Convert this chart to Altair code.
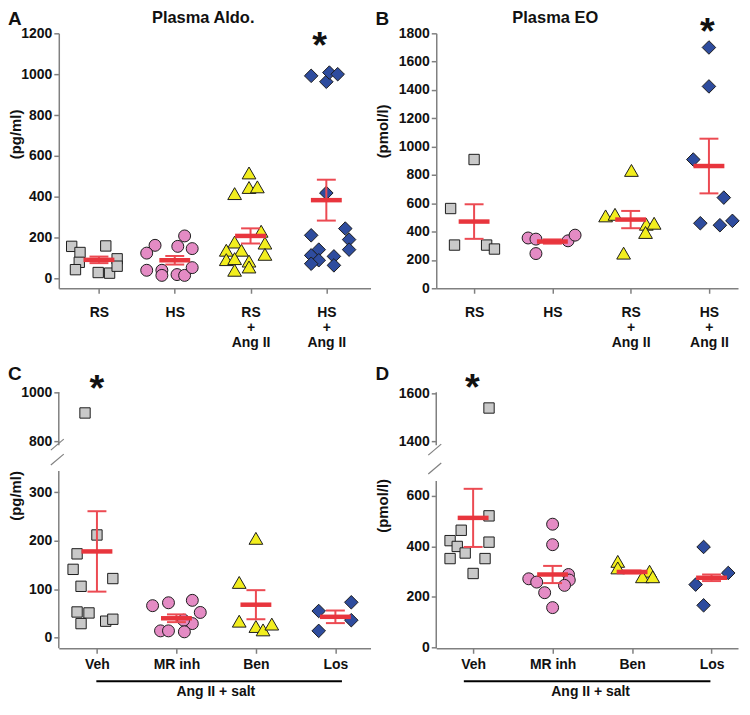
import json
import altair as alt
import pandas as pd

FONT = "Liberation Sans"
INK = "#111111"
RED_MEAN = "#e8353d"
RED_ERR = "#ec4a52"
EDGE = "#1c1c1c"
AXIS_GRAY = "#808080"

# ---------------- text ----------------
groups_top = ["RS", "HS", "RS|+|Ang II", "HS|+|Ang II"]
groups_bottom = ["Veh", "MR inh", "Ben", "Los"]
panel_letters = ["A", "B", "C", "D"]
panel_titles = ["Plasma Aldo.", "Plasma EO"]
unit_titles = ["(pg/ml)", "(pmol/l)"]
bracket_label = "Ang II + salt"
star_text = "*"

# ---------------- Panel A: plasma aldosterone (pg/ml) ----------------
a_rs = [158, 128, 80, 44, 30, 160, 27, 97, 61]
a_rs_dx = [-0.36, -0.25, -0.26, -0.31, -0.01, 0.09, 0.14, 0.24, 0.24]
a_hs = [163, 125, 209, 158, 147, 41, 41, 16, 20, 16, 54]
a_hs_dx = [-0.26, -0.37, 0.13, 0.04, 0.23, -0.37, -0.17, -0.17, 0.03, 0.13, 0.23]
a_rsang = [517, 416, 446, 449, 232, 174, 119, 179, 139, 139, 93, 98, 86, 57, 41]
a_rsang_dx = [-0.02, -0.21, -0.02, 0.09, 0.14, 0.19, 0.19, -0.21, -0.12, -0.32,
              -0.32, -0.21, -0.02, -0.02, -0.21]
a_hsang = [992, 963, 1008, 1000, 419, 212, 142, 114, 90, 73, 109, 65, 245, 191, 142]
a_hsang_dx = [-0.20, 0.00, 0.04, 0.15, 0.00, -0.20, -0.10, -0.20, -0.10, -0.20,
              0.10, 0.10, 0.25, 0.30, 0.30]
a_mean = [92, 90, 209, 384]
a_sem = [16, 21, 37, 100]

# ---------------- Panel B: plasma EO (pmol/l) ----------------
b_rs = [909, 563, 305, 305, 277]
b_rs_dx = [0.00, -0.30, -0.25, 0.16, 0.26]
b_hs = [355, 347, 245, 335, 375]
b_hs_dx = [-0.31, -0.21, -0.21, 0.20, 0.29]
b_rsang = [832, 511, 522, 452, 459, 394, 248]
b_rsang_dx = [0.01, -0.32, -0.20, 0.20, 0.30, 0.19, -0.09]
b_hsang = [1700, 1425, 909, 640, 459, 445, 476]
b_hsang_dx = [0.00, 0.00, -0.20, 0.19, -0.11, 0.14, 0.30]
b_mean = [471, 330, 485, 863]
b_sem = [122, 15, 61, 193]

# ---------------- Panel C: plasma aldosterone, Ang II + salt (pg/ml) ----------------
c_veh = [916, 212, 173, 141, 106, 122, 53, 51, 29, 34, 38]
c_veh_dx = [-0.15, 0.00, -0.25, -0.30, -0.20, 0.20, -0.25, -0.10, -0.20, 0.11, 0.20]
c_mr = [66, 72, 77, 52, 29, 36, 14, 14, 12]
c_mr_dx = [-0.30, -0.10, 0.20, 0.30, 0.20, 0.09, -0.20, -0.10, 0.10]
c_ben = [205, 114, 34, 23, 16, 28]
c_ben_dx = [0.00, -0.21, -0.21, 0.00, 0.09, 0.20]
c_los = [55, 14, 73, 36]
c_los_dx = [-0.21, -0.21, 0.20, 0.20]
c_mean = [178, 40, 68, 43]
c_sem = [83, 8, 30, 13]

# ---------------- Panel D: plasma EO, Ang II + salt (pmol/l) ----------------
d_veh = [1539, 521, 464, 423, 400, 374, 352, 417, 352, 293]
d_veh_dx = [0.20, 0.20, -0.15, -0.29, -0.20, -0.10, -0.29, 0.20, 0.15, 0.00]
d_mr = [488, 407, 272, 259, 217, 158, 289, 267, 246]
d_mr_dx = [0.00, 0.00, -0.30, -0.20, -0.10, 0.00, 0.20, 0.21, 0.15]
d_ben = [341, 315, 302, 280, 280]
d_ben_dx = [-0.18, -0.18, 0.22, 0.13, 0.26]
d_los = [398, 249, 167, 295]
d_los_dx = [-0.10, -0.20, -0.10, 0.21]
d_mean = [513, 289, 299, 276]
d_sem = [115, 34, 6, 13]

# significance stars (group position, value)
star_x = [2.91, 2.98, 0.0, -0.01]
star_y = [1180, 1875, 1050, 1660]

# broken y axes: visible segments (lower, upper)
c_segments = [(-22, 344), (785, 1000)]
d_segments = [(-3, 659), (1385, 1604)]

# ---------------- styling ----------------
shapes = ["square", "circle", "triangle-up", "diamond"]
fills = ["#c9c9c9", "#e48bc4", "#f2ee1e", "#2e4c9e"]
sizes = [108, 144, 190, 185]


def make_points(vals, dxs):
    rows = []
    for g, (vs, ds) in enumerate(zip(vals, dxs)):
        for v, d in zip(vs, ds):
            rows.append({"g": g, "xpos": g + d, "v": v})
    return pd.DataFrame(rows)


def make_stats(means, sems):
    return pd.DataFrame({
        "g": list(range(len(means))),
        "mean": means,
        "lo": [m - s for m, s in zip(means, sems)],
        "hi": [m + s for m, s in zip(means, sems)],
    })


def label_expr(labels):
    return "split(" + json.dumps(labels) + "[round(datum.value)], '|')"


def x_axis(labels, pad):
    return alt.Axis(values=[0, 1, 2, 3], labelExpr=label_expr(labels), title=None,
                    labelPadding=pad, labelLineHeight=15, labelOverlap=False,
                    labelFlush=False, labelAlign="center", labelBaseline="top",
                    labelFontSize=14, grid=False)


def y_axis(ticks, domain=True):
    return alt.Axis(values=ticks, format="d", title=None, grid=False, domain=domain,
                    labelPadding=2, labelFontSize=14, labelOverlap=False)


def text_px(txt, x, y, size, align="left", baseline="top", angle=0):
    return alt.Chart(pd.DataFrame({"t": [txt]})).mark_text(
        font=FONT, fontSize=size, fontWeight="bold", color=INK,
        align=align, baseline=baseline, angle=angle).encode(
        x=alt.value(x), y=alt.value(y), text="t:N")


def unit_title(txt, x, y):
    return text_px(txt, x, y, 15, align="center", baseline="middle", angle=270)


def panel(pts, st, xs, ys, xax, yax, width, height, star, extras=(), segments=None):
    def X(f):
        return alt.X(f, scale=xs, axis=xax)

    def Y(f):
        return alt.Y(f, scale=ys, axis=yax)

    layers = []
    if segments is not None:
        seg = pd.DataFrame({"x": [xs.domain[0]] * len(segments),
                            "y0": [s[0] for s in segments],
                            "y1": [s[1] for s in segments]})
        layers.append(alt.Chart(seg).mark_rule(color=AXIS_GRAY, strokeWidth=1.5).encode(
            x=X("x:Q"), y=Y("y0:Q"), y2="y1:Q"))
    base = alt.Chart(pts)
    for g in range(4):
        layers.append(
            base.transform_filter(alt.datum.g == g).mark_point(
                shape=shapes[g], filled=True, fill=fills[g], stroke=EDGE,
                strokeWidth=1, size=sizes[g], opacity=1).encode(
                x=X("xpos:Q"), y=Y("v:Q")))
    sb = alt.Chart(st)
    layers.append(sb.mark_rule(color=RED_ERR, strokeWidth=2).encode(
        x=X("g:Q"), y=Y("lo:Q"), y2="hi:Q"))
    layers.append(sb.transform_fold(["lo", "hi"], as_=["k", "cap"]).mark_tick(
        orient="horizontal", color=RED_ERR, size=19, thickness=2, opacity=1).encode(
        x=X("g:Q"), y=Y("cap:Q")))
    layers.append(sb.mark_tick(
        orient="horizontal", color=RED_MEAN, size=31, thickness=4.5, opacity=1).encode(
        x=X("g:Q"), y=Y("mean:Q")))
    sx, sy = star
    layers.append(alt.Chart(pd.DataFrame({"x": [sx], "y": [sy], "t": [star_text]})).mark_text(
        font=FONT, fontSize=38, fontWeight="bold", color=INK,
        baseline="alphabetic", dy=21).encode(
        x=X("x:Q"), y=Y("y:Q"), text="t:N"))
    layers.extend(extras)
    return alt.layer(*layers).properties(width=width, height=height)


def slash(x, y):
    return alt.Chart(pd.DataFrame({"t": [0]})).mark_rule(color=AXIS_GRAY, strokeWidth=1.2).encode(
        x=alt.value(x - 7), x2=alt.value(x + 6), y=alt.value(y + 6), y2=alt.value(y - 5))


def bracket(x0, x1, y, tx, ty):
    line = alt.Chart(pd.DataFrame({"t": [bracket_label]})).mark_rule(
        color="black", strokeWidth=2).encode(
        x=alt.value(x0), x2=alt.value(x1), y=alt.value(y))
    return [line, text_px(bracket_label, tx, ty, 14, align="center", baseline="middle")]


# ---------------- Panel A ----------------
pA = make_points([a_rs, a_hs, a_rsang, a_hsang], [a_rs_dx, a_hs_dx, a_rsang_dx, a_hsang_dx])
sA = make_stats(a_mean, a_sem)
chartA = panel(
    pA, sA,
    alt.Scale(domain=[-0.53, 3.583], nice=False, zero=False),
    alt.Scale(domain=[-47, 1200], nice=False, zero=False),
    x_axis(groups_top, 12.5),
    y_axis(list(range(0, 1201, 200))),
    313, 256, (star_x[0], star_y[0]),
    extras=[text_px(panel_letters[0], -51, -23.5, 19),
            text_px(panel_titles[0], 145, -23.5, 16.5, align="center"),
            unit_title(unit_titles[0], -43, 101.5)])

# ---------------- Panel B ----------------
pB = make_points([b_rs, b_hs, b_rsang, b_hsang], [b_rs_dx, b_hs_dx, b_rsang_dx, b_hsang_dx])
sB = make_stats(b_mean, b_sem)
chartB = panel(
    pB, sB,
    alt.Scale(domain=[-0.4835, 3.3715], nice=False, zero=False),
    alt.Scale(domain=[0, 1800], nice=False, zero=False),
    x_axis(groups_top, 12.5),
    y_axis(list(range(0, 1801, 200))),
    303, 256, (star_x[1], star_y[1]),
    extras=[text_px(panel_letters[1], -61, -23.5, 19),
            text_px(panel_titles[1], 119.5, -23.5, 16.5, align="center"),
            unit_title(unit_titles[1], -53, 98.5)])

# ---------------- Panel C (broken axis, piecewise scale) ----------------
pC = make_points([c_veh, c_mr, c_ben, c_los], [c_veh_dx, c_mr_dx, c_ben_dx, c_los_dx])
sC = make_stats(c_mean, c_sem)
chartC = panel(
    pC, sC,
    alt.Scale(domain=[-0.48, 3.442], nice=False, zero=False),
    alt.Scale(domain=[c_segments[0][0], c_segments[0][1], c_segments[1][0], c_segments[1][1]],
              range=[257, 79, 53, 0], nice=False, zero=False),
    x_axis(groups_bottom, 4),
    y_axis([0, 100, 200, 300, 800, 1000], domain=False),
    313, 257, (star_x[2], star_y[2]),
    segments=c_segments,
    extras=[text_px(panel_letters[2], -51, -27.4, 19), slash(-1, 52), slash(-1, 67),
            unit_title(unit_titles[0], -43, 104)]
    + bracket(37.7, 284.3, 290, 157.7, 301))

# ---------------- Panel D (broken axis, piecewise scale) ----------------
pD = make_points([d_veh, d_mr, d_ben, d_los], [d_veh_dx, d_mr_dx, d_ben_dx, d_los_dx])
sD = make_stats(d_mean, d_sem)
chartD = panel(
    pD, sD,
    alt.Scale(domain=[-0.464, 3.333], nice=False, zero=False),
    alt.Scale(domain=[d_segments[0][0], d_segments[0][1], d_segments[1][0], d_segments[1][1]],
              range=[257, 89, 53, 0], nice=False, zero=False),
    x_axis(groups_bottom, 4),
    y_axis([0, 200, 400, 600, 1400, 1600], domain=False),
    303, 257, (star_x[3], star_y[3]),
    segments=d_segments,
    extras=[text_px(panel_letters[3], -61, -27.4, 19), slash(-1, 57), slash(-1, 76),
            unit_title(unit_titles[1], -53.5, 114)]
    + bracket(27.7, 275.3, 290, 155, 301))

chart = alt.concat(
    chartA, chartB, chartC, chartD, columns=2,
    spacing={"row": 104.5, "column": 66}, bounds="flush", padding=0
).configure(font=FONT).configure_view(stroke=None).configure_axis(
    labelFont=FONT, labelFontWeight="bold", labelColor=INK,
    titleFont=FONT, titleFontWeight="bold", titleColor=INK,
    domainColor=AXIS_GRAY, domainWidth=1.5, tickColor=AXIS_GRAY,
    tickWidth=1.5, tickSize=5, grid=False
)

chart.save("out.html", embed_options={"renderer": "svg", "actions": False})
